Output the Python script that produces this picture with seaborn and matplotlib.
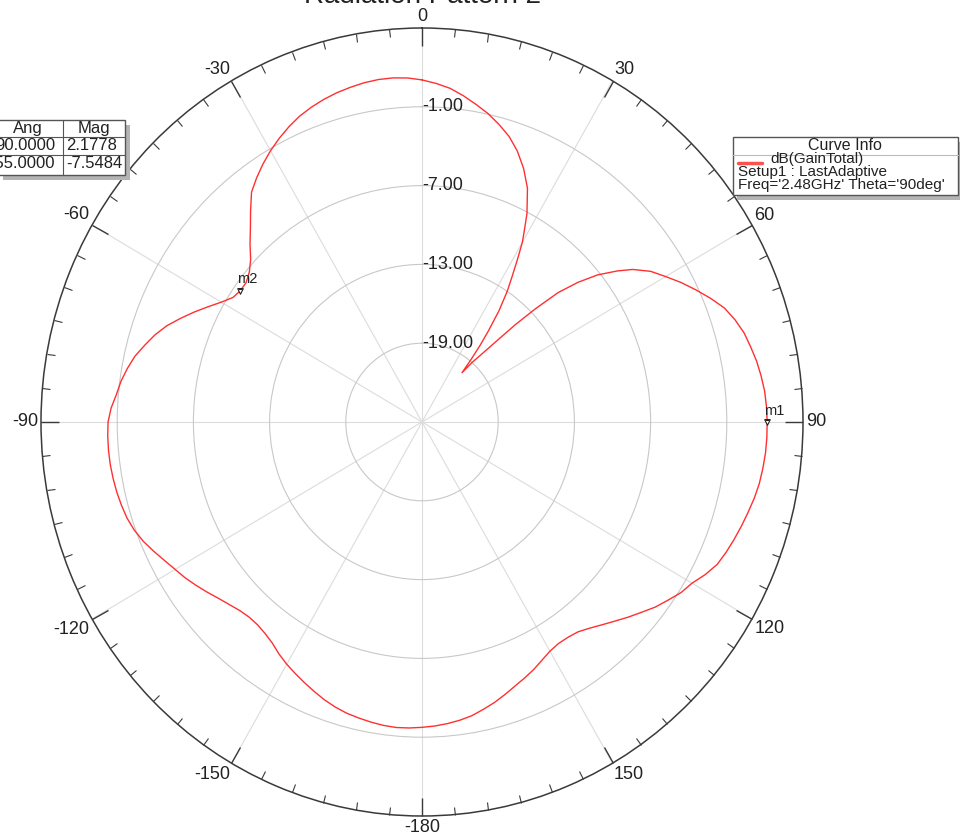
import numpy as np
import matplotlib
matplotlib.use('Agg')
import matplotlib.pyplot as plt
import matplotlib.transforms as mtransforms
from matplotlib.patches import Rectangle
from matplotlib.lines import Line2D
import seaborn as sns

sns.set_theme(style='white')
plt.rcParams['font.family'] = ['Liberation Sans', 'DejaVu Sans']

# radiation pattern, phi in degrees (clockwise from top), gain in dB
phi_deg = [0, 2.5, 5, 7.5, 10, 12.5, 15, 17.5, 20, 22.5, 25, 27.5, 29, 30, 31.2, 32.7, 34,
           35.6, 37, 38.1, 39, 40, 41, 42.5, 43.8, 44.8, 46, 47.4, 49.1, 51, 53.2, 55, 57.5,
           60, 62.5, 65, 67.5, 70, 72.5, 75, 77.5, 80, 82.5, 85, 87.5, 90, 92.5, 95, 97.5,
           100, 102.5, 105, 107.5, 110, 112.5, 115, 117.5, 120, 122.5, 125, 127.5, 130,
           132.5, 135, 137.5, 140, 142.5, 145, 147.5, 150, 152.5, 155, 157.5, 160, 162.5,
           165, 167.5, 170, 172.5, 175, 177.5, 180, 182.5, 185, 187.5, 190, 192.5, 195,
           197.5, 200, 202.5, 205, 207.5, 210, 212.5, 215, 217.5, 220, 222.5, 225, 227.5,
           230, 232.5, 235, 237.5, 240, 242.5, 245, 247.5, 250, 252.5, 255, 257.5, 260,
           262.5, 265, 267.5, 270, 272.5, 275, 277.5, 280, 282.5, 285, 287.5, 290, 292.5,
           295, 297.5, 300, 302.5, 305, 307.5, 310, 312.5, 315, 317.5, 320, 322.5, 325,
           327.5, 330, 332.5, 335, 337.5, 340, 342.5, 345, 347.5, 350, 352.5, 355, 357.5, 360]
gain_db = [1.05, 0.8, 0.5, 0.05, -0.45, -0.95, -1.55, -2.2, -3.05, -4.1, -5.35, -7.1, -8.4,
           -9.2, -10.45, -11.9, -13.0, -14.6, -16.3, -17.6, -18.8, -20.1, -19.0, -17.8,
           -16.2, -14.5, -12.6, -10.45, -8.76, -7.2, -5.8, -4.75, -3.65, -2.85, -2.0, -1.2,
           -0.4, 0.35, 0.85, 1.25, 1.5, 1.75, 1.93, 2.08, 2.15, 2.18, 2.18, 2.15, 2.07,
           1.97, 1.8, 1.58, 1.37, 1.15, 0.92, 0.65, 0.15, -0.45, -0.82, -1.35, -1.85, -2.45,
           -3.0, -3.55, -4.05, -4.5, -4.85, -4.98, -5.0, -4.85, -4.55, -4.2, -3.9, -3.6,
           -3.25, -2.9, -2.6, -2.3, -2.1, -1.95, -1.83, -1.75, -1.68, -1.65, -1.7, -1.8,
           -1.92, -2.05, -2.25, -2.5, -2.8, -3.1, -3.4, -3.7, -4.05, -4.45, -4.7, -4.85,
           -4.85, -4.7, -4.42, -4.1, -3.7, -3.3, -2.9, -2.55, -2.15, -1.7, -1.25, -0.9,
           -0.65, -0.5, -0.38, -0.3, -0.24, -0.22, -0.23, -0.28, -0.5, -0.85, -1.1, -1.45,
           -1.85, -2.4, -2.95, -3.6, -4.4, -5.2, -6.0, -6.75, -7.35, -7.55, -7.55, -7.25,
           -6.7, -5.85, -5.0, -4.0, -2.95, -2.3, -1.7, -1.15, -0.65, -0.2, 0.2, 0.5, 0.75,
           0.95, 1.1, 1.23, 1.3, 1.3, 1.22, 1.05]

marker_names = ['m1', 'm2']
marker_ang = [90.0, -55.0]
marker_mag = [2.1778, -7.5484]

ring_vals = [-19, -13, -7, -1]
angle_ticks = [0, 30, 60, 90, 120, 150, 180, 210, 240, 270, 300, 330]
angle_labels = ['0', '30', '60', '90', '120', '150', '-180', '-150', '-120', '-90', '-60', '-30']

W, H = 960, 835
fig = plt.figure(figsize=(W / 100, H / 100), dpi=100)
fig.patch.set_facecolor('white')

def fx(x):
    return x / W

def fy(y):
    return 1 - y / H

# polar area (slightly taller than wide, like the reference)
cx, cy, rx, ry = 422, 422, 381, 394
ax = fig.add_axes([fx(cx - rx), fy(cy + ry), 2 * rx / W, 2 * ry / H], projection='polar')
ax.set_aspect('auto')
ax.set_theta_zero_location('N')
ax.set_theta_direction(-1)
ax.set_rlim(-25, 5)

ax.set_xticks(np.deg2rad(angle_ticks))
ax.set_xticks(np.deg2rad(np.arange(0, 360, 5)), minor=True)
ax.xaxis.set_ticklabels([])
# in a polar axes the "top" ticks sit on the outer circle
ax.tick_params(axis='x', which='both', bottom=False, top=True)
ax.tick_params(axis='x', which='major', direction='in', length=13, width=1.0, color='#3a3a3a')
ax.tick_params(axis='x', which='minor', direction='in', length=6, width=0.8, color='#3a3a3a')
ax.set_yticks(ring_vals)
ax.yaxis.set_ticklabels([])
ax.xaxis.grid(True, which='major', color='#dcdcdc', lw=0.8)
ax.yaxis.grid(True, color='#c8c8c8', lw=0.8)
ax.spines['polar'].set_color('#3a3a3a')
ax.spines['polar'].set_linewidth(1.1)

sns.lineplot(x=np.deg2rad(phi_deg), y=gain_db, ax=ax, sort=False, estimator=None,
             color='#ff3030', linewidth=1.0)
ax.set_xlabel('')
ax.set_ylabel('')

# ring labels along the 0 deg line
for v in ring_vals:
    ax.text(0, v, f'{v:.2f}', ha='left', va='center', fontsize=13, color='#222222')

# angle labels outside the circle
pad = 3
for a, lab in zip(angle_ticks, angle_labels):
    s, c = np.sin(np.deg2rad(a)), np.cos(np.deg2rad(a))
    ha = 'left' if s > 0.1 else ('right' if s < -0.1 else 'center')
    va = 'bottom' if c > 0.1 else ('top' if c < -0.1 else 'center')
    tr = mtransforms.offset_copy(ax.transData, fig=fig, x=pad * s, y=pad * c, units='dots')
    ax.text(np.deg2rad(a), 5, lab, ha=ha, va=va, fontsize=13, color='#222222',
            transform=tr, clip_on=False)

# markers
ax.scatter(np.deg2rad(marker_ang), marker_mag, marker='v', s=16, facecolor='white',
           edgecolor='#222222', linewidth=0.8, zorder=5)
for name, a, m in zip(marker_names, marker_ang, marker_mag):
    ax.annotate(name, (np.deg2rad(a), m), xytext=(-2.5, 3), textcoords='offset points',
                fontsize=10.5, color='#222222', ha='left', va='bottom')

# title (cut off at the top edge)
fig.text(fx(422), fy(3), 'Radiation Pattern 2', ha='center', va='baseline',
         fontsize=20, color='#222222')

# marker table, top-left
fig.patches.append(Rectangle((fx(3), fy(180)), 127 / W, 55 / H, transform=fig.transFigure,
                             facecolor='#b4b4b4', edgecolor='none', zorder=1))
fig.patches.append(Rectangle((fx(-2), fy(175)), 127 / W, 55 / H, transform=fig.transFigure,
                             facecolor='white', edgecolor='#555555', lw=1.0, zorder=2))
for yy in [137, 155]:
    fig.lines.append(Line2D([fx(-2), fx(125)], [fy(yy), fy(yy)], transform=fig.transFigure,
                            color='#555555', lw=0.8, zorder=3))
fig.lines.append(Line2D([fx(63), fx(63)], [fy(120), fy(175)], transform=fig.transFigure,
                        color='#555555', lw=0.8, zorder=3))
tab_rows = [['Ang', 'Mag'], [f'{marker_ang[0]:.4f}', f'{marker_mag[0]:.4f}'],
            [f'{marker_ang[1]:.4f}', f'{marker_mag[1]:.4f}']]
row_y = [128, 146, 164]
for k, (r, yy) in enumerate(zip(tab_rows, row_y)):
    if k == 0:
        fig.text(fx(28), fy(yy), r[0], ha='center', va='center', fontsize=12, color='#222222', zorder=4)
        fig.text(fx(94), fy(yy), r[1], ha='center', va='center', fontsize=12, color='#222222', zorder=4)
    else:
        fig.text(fx(55), fy(yy), r[0], ha='right', va='center', fontsize=12, color='#222222', zorder=4)
        fig.text(fx(66), fy(yy), r[1], ha='left', va='center', fontsize=12, color='#222222', zorder=4)

# curve info box, top-right
fig.patches.append(Rectangle((fx(737), fy(200)), 225 / W, 58 / H, transform=fig.transFigure,
                             facecolor='#b4b4b4', edgecolor='none', zorder=1))
fig.patches.append(Rectangle((fx(733), fy(195)), 225 / W, 58 / H, transform=fig.transFigure,
                             facecolor='white', edgecolor='#555555', lw=1.0, zorder=2))
fig.lines.append(Line2D([fx(733), fx(958)], [fy(155), fy(155)], transform=fig.transFigure,
                        color='#bbbbbb', lw=0.8, zorder=3))
fig.lines.append(Line2D([fx(738), fx(762)], [fy(163), fy(163)], transform=fig.transFigure,
                        color='#ff5050', lw=2.5, zorder=3))
fig.text(fx(845), fy(145), 'Curve Info', ha='center', va='center', fontsize=11.5,
         color='#222222', zorder=4)
fig.text(fx(770), fy(159.5), 'dB(GainTotal)', ha='left', va='center', fontsize=11,
         color='#222222', zorder=4)
fig.text(fx(738), fy(172), 'Setup1 : LastAdaptive', ha='left', va='center', fontsize=11,
         color='#222222', zorder=4)
fig.text(fx(738), fy(184.5), "Freq='2.48GHz' Theta='90deg'", ha='left', va='center',
         fontsize=11, color='#222222', zorder=4)

fig.savefig('out.png', dpi=100, facecolor='white')
